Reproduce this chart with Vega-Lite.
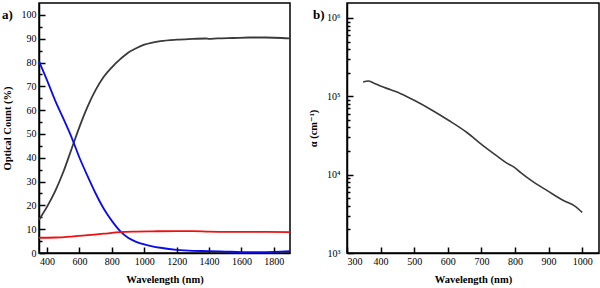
{
  "$schema": "https://vega.github.io/schema/vega-lite/v6.json",
  "padding": {"top": 2, "left": 1, "right": 1, "bottom": 2},
  "spacing": 57,
  "bounds": "flush",
  "config": {
    "view": {"stroke": "black", "strokeWidth": 1.5},
    "axis": {
      "grid": false,
      "labelFont": "Liberation Serif, Times New Roman, DejaVu Serif, serif",
      "labelFontSize": 10,
      "labelColor": "black",
      "titleFont": "Liberation Serif, Times New Roman, DejaVu Serif, serif",
      "titleFontSize": 10.5,
      "titleFontWeight": "bold",
      "titleColor": "black",
      "domainColor": "black",
      "domainWidth": 1.5,
      "tickColor": "black",
      "tickWidth": 1.5
    },
    "title": {"font": "Liberation Serif, Times New Roman, DejaVu Serif, serif", "fontSize": 13, "fontWeight": "bold", "color": "black"}
  },
  "hconcat": [
    {
      "width": 251,
      "height": 250,
      "title": {"text": "a)", "anchor": "start", "frame": "group", "dx": -37, "dy": 19, "offset": 0},
      "data": {"values": [
        {"wl": 350, "v": 14, "s": "T"}, {"wl": 400, "v": 19.5, "s": "T"}, {"wl": 450, "v": 26, "s": "T"},
        {"wl": 500, "v": 34, "s": "T"}, {"wl": 550, "v": 43.5, "s": "T"}, {"wl": 600, "v": 53, "s": "T"},
        {"wl": 650, "v": 61.5, "s": "T"}, {"wl": 700, "v": 68.5, "s": "T"}, {"wl": 750, "v": 74, "s": "T"},
        {"wl": 800, "v": 78, "s": "T"}, {"wl": 850, "v": 81.3, "s": "T"}, {"wl": 900, "v": 84.1, "s": "T"},
        {"wl": 950, "v": 86, "s": "T"}, {"wl": 1000, "v": 87.5, "s": "T"}, {"wl": 1050, "v": 88.4, "s": "T"},
        {"wl": 1100, "v": 89, "s": "T"}, {"wl": 1200, "v": 89.6, "s": "T"}, {"wl": 1300, "v": 89.9, "s": "T"},
        {"wl": 1380, "v": 90.1, "s": "T"}, {"wl": 1400, "v": 89.9, "s": "T"}, {"wl": 1450, "v": 90.1, "s": "T"},
        {"wl": 1550, "v": 90.3, "s": "T"}, {"wl": 1650, "v": 90.5, "s": "T"}, {"wl": 1750, "v": 90.5, "s": "T"},
        {"wl": 1850, "v": 90.3, "s": "T"}, {"wl": 1900, "v": 90.1, "s": "T"},
        {"wl": 350, "v": 80.5, "s": "A"}, {"wl": 400, "v": 72.5, "s": "A"}, {"wl": 450, "v": 64, "s": "A"},
        {"wl": 500, "v": 56.5, "s": "A"}, {"wl": 550, "v": 48.8, "s": "A"}, {"wl": 600, "v": 40, "s": "A"},
        {"wl": 650, "v": 32.3, "s": "A"}, {"wl": 700, "v": 25, "s": "A"}, {"wl": 750, "v": 18.6, "s": "A"},
        {"wl": 800, "v": 13.5, "s": "A"}, {"wl": 850, "v": 9.3, "s": "A"}, {"wl": 900, "v": 6.4, "s": "A"},
        {"wl": 950, "v": 4.7, "s": "A"}, {"wl": 1000, "v": 3.6, "s": "A"}, {"wl": 1050, "v": 2.8, "s": "A"},
        {"wl": 1100, "v": 2.2, "s": "A"}, {"wl": 1200, "v": 1.3, "s": "A"}, {"wl": 1300, "v": 0.9, "s": "A"},
        {"wl": 1400, "v": 0.8, "s": "A"}, {"wl": 1500, "v": 0.6, "s": "A"}, {"wl": 1600, "v": 0.4, "s": "A"},
        {"wl": 1700, "v": 0.4, "s": "A"}, {"wl": 1800, "v": 0.5, "s": "A"}, {"wl": 1900, "v": 0.8, "s": "A"},
        {"wl": 350, "v": 6.4, "s": "R"}, {"wl": 450, "v": 6.5, "s": "R"}, {"wl": 550, "v": 6.9, "s": "R"},
        {"wl": 650, "v": 7.5, "s": "R"}, {"wl": 750, "v": 8.1, "s": "R"}, {"wl": 850, "v": 8.8, "s": "R"},
        {"wl": 950, "v": 9.0, "s": "R"}, {"wl": 1050, "v": 9.1, "s": "R"}, {"wl": 1200, "v": 9.2, "s": "R"},
        {"wl": 1300, "v": 9.2, "s": "R"}, {"wl": 1400, "v": 9.0, "s": "R"}, {"wl": 1500, "v": 8.9, "s": "R"},
        {"wl": 1700, "v": 8.9, "s": "R"}, {"wl": 1900, "v": 8.8, "s": "R"}
      ]},
      "mark": {"type": "line", "strokeWidth": 1.8, "interpolate": "monotone"},
      "encoding": {
        "x": {"field": "wl", "type": "quantitative", "title": "Wavelength (nm)",
          "scale": {"domain": [350, 1900], "nice": false, "zero": false},
          "axis": {"values": [400, 600, 800, 1000, 1200, 1400, 1600, 1800], "tickSize": -6, "labelPadding": 9, "titlePadding": 8, "format": "d"}},
        "y": {"field": "v", "type": "quantitative", "title": "Optical Count (%)",
          "scale": {"domain": [0, 105], "nice": false},
          "axis": {"values": [0, 5, 10, 15, 20, 25, 30, 35, 40, 45, 50, 55, 60, 65, 70, 75, 80, 85, 90, 95, 100],
            "labelExpr": "datum.value % 10 == 0 ? datum.label : ''",
            "tickSize": {"condition": {"test": "datum.value % 10 == 0", "value": -6}, "value": -3},
            "labelPadding": 9, "titlePadding": 9}},
        "color": {"field": "s", "type": "nominal", "legend": null,
          "scale": {"domain": ["T", "A", "R"], "range": ["#3a3a3a", "#0a0aee", "#ee1111"]}},
        "order": {"field": "wl", "type": "quantitative"}
      }
    },
    {
      "width": 252,
      "height": 250,
      "title": {"text": "b)", "anchor": "start", "frame": "group", "dx": -34, "dy": 19, "offset": 0},
      "data": {"values": [
        {"wl": 348, "a": 152000}, {"wl": 363, "a": 157000}, {"wl": 380, "a": 147000}, {"wl": 400, "a": 135000},
        {"wl": 430, "a": 121000}, {"wl": 460, "a": 108000}, {"wl": 500, "a": 89000}, {"wl": 557, "a": 65000},
        {"wl": 602, "a": 49500}, {"wl": 657, "a": 34500}, {"wl": 702, "a": 24000}, {"wl": 747, "a": 17200},
        {"wl": 777, "a": 13900}, {"wl": 797, "a": 12500}, {"wl": 817, "a": 10600}, {"wl": 847, "a": 8500},
        {"wl": 897, "a": 6200}, {"wl": 947, "a": 4600}, {"wl": 977, "a": 4000}, {"wl": 1000, "a": 3300}
      ]},
      "mark": {"type": "line", "strokeWidth": 1.6, "color": "#3a3a3a", "interpolate": "monotone"},
      "encoding": {
        "x": {"field": "wl", "type": "quantitative", "title": "Wavelength (nm)",
          "scale": {"domain": [300, 1050], "nice": false, "zero": false},
          "axis": {"values": [300, 400, 500, 600, 700, 800, 900, 1000], "tickSize": -6, "labelPadding": 9, "titlePadding": 8, "format": "d"}},
        "y": {"field": "a", "type": "quantitative", "title": "α (cm⁻¹)",
          "scale": {"type": "log", "domain": [1000, 1550000], "nice": false},
          "axis": {"values": [1000, 2000, 3000, 4000, 5000, 6000, 7000, 8000, 9000, 10000, 20000, 30000, 40000, 50000, 60000, 70000, 80000, 90000, 100000, 200000, 300000, 400000, 500000, 600000, 700000, 800000, 900000, 1000000],
            "labelExpr": "datum.value == 1000 ? '10³' : datum.value == 10000 ? '10⁴' : datum.value == 100000 ? '10⁵' : datum.value == 1000000 ? '10⁶' : ''",
            "tickSize": {"condition": {"test": "datum.value == 1000 || datum.value == 10000 || datum.value == 100000 || datum.value == 1000000", "value": -6}, "value": -3},
            "labelPadding": 13, "titlePadding": 8}}
      }
    }
  ]
}
